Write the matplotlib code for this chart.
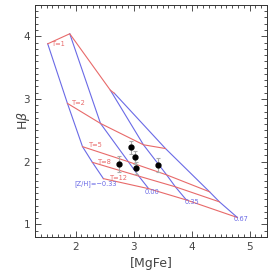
import matplotlib
matplotlib.use("Agg")
import matplotlib.pyplot as plt
from matplotlib.ticker import MultipleLocator

# Model grid: ages (Gyr) and metallicities [Z/H]
ages = [1, 2, 5, 8, 12]
metallicities = [-0.33, 0.00, 0.35, 0.67]

# [MgFe] values per metallicity (ordered by age)
mgfe_m033 = [1.52, 1.86, 2.12, 2.29, 2.48]
mgfe_p000 = [1.90, 2.43, 2.91, 3.09, 3.26]
mgfe_p035 = [2.60, 3.17, 3.57, 3.72, 3.91]
mgfe_p067 = [2.67, 3.55, 4.31, 4.48, 4.79]

# Hbeta values per metallicity (ordered by age)
hb_m033 = [3.88, 2.93, 2.24, 1.99, 1.73]
hb_p000 = [4.04, 2.61, 2.00, 1.77, 1.57]
hb_p035 = [3.14, 2.27, 1.79, 1.60, 1.39]
hb_p067 = [3.09, 2.21, 1.52, 1.36, 1.11]

# Observed points
obs_mgfe = [2.95, 3.03, 2.75, 3.05, 3.42]
obs_hb = [2.23, 2.07, 1.965, 1.90, 1.95]
obs_err = [0.10, 0.10, 0.13, 0.10, 0.11]

age_labels = ["T=1", "T=2", "T=5", "T=8", "T=12"]
age_label_x = [1.60, 1.94, 2.23, 2.39, 2.60]
age_label_y = [3.88, 2.94, 2.26, 1.99, 1.74]
z_labels = ["[Z/H]=\u22120.33", "0.00", "0.35", "0.67"]
z_label_x = [1.98, 3.19, 3.88, 4.72]
z_label_y = [1.655, 1.52, 1.36, 1.08]

mgfe = [mgfe_m033, mgfe_p000, mgfe_p035, mgfe_p067]
hb = [hb_m033, hb_p000, hb_p035, hb_p067]

blue = "#6a6ae6"
red = "#e86a6a"
txt = "#444444"

fig = plt.figure(figsize=(2.73, 2.73), dpi=100)
ax = fig.add_axes([0.128, 0.132, 0.85, 0.85])

# constant metallicity lines (blue)
for xs, ys in zip(mgfe, hb):
    ax.plot(xs, ys, color=blue, lw=0.8)
# constant age lines (red)
for i in range(len(ages)):
    ax.plot([m[i] for m in mgfe], [h[i] for h in hb], color=red, lw=0.8)

for lab, x, y in zip(age_labels, age_label_x, age_label_y):
    ax.text(x, y, lab, color=red, fontsize=4.8, ha="left", va="center")
for lab, x, y in zip(z_labels, z_label_x, z_label_y):
    ax.text(x, y, lab, color=blue, fontsize=4.8, ha="left", va="center")

ax.errorbar(obs_mgfe, obs_hb, yerr=obs_err, fmt="o", color="black",
            ms=3.5, ecolor="#aaaaaa", elinewidth=0.8, capsize=1.5, capthick=0.8)

ax.set_xlim(1.3, 5.3)
ax.set_ylim(0.8, 4.5)
ax.xaxis.set_major_locator(MultipleLocator(1))
ax.xaxis.set_minor_locator(MultipleLocator(0.1))
ax.yaxis.set_major_locator(MultipleLocator(1))
ax.yaxis.set_minor_locator(MultipleLocator(0.1))
ax.tick_params(which="both", direction="in", top=True, right=True,
               color="#333333", width=0.6, labelsize=7.5, labelcolor=txt)
ax.tick_params(which="major", length=4)
ax.tick_params(which="minor", length=2)
for s in ax.spines.values():
    s.set_color("#333333")
    s.set_linewidth(0.7)

ax.set_xlabel("[MgFe]", fontsize=9, color=txt, labelpad=4)
ax.set_ylabel(r"H$\beta$", fontsize=9, color=txt)
ax.yaxis.label.set_va("center")
ax.yaxis.set_label_coords(-0.05, 0.5)

fig.savefig("out.png", dpi=100)
